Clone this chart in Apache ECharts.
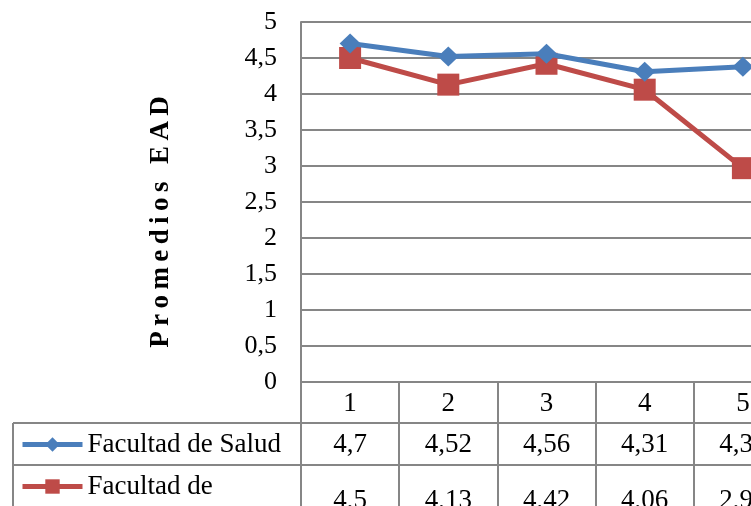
<!DOCTYPE html>
<html>
<head>
<meta charset="utf-8">
<script src="https://cdn.jsdelivr.net/npm/echarts@6/dist/echarts.min.js"></script>
<style>
  html, body { margin: 0; padding: 0; background: #fff; overflow: hidden; }
  #chart { width: 800px; height: 506px; }
</style>
</head>
<body>
<div id="chart"></div>
<script>
// Data
const categories = ['1', '2', '3', '4', '5'];
const saludName = 'Facultad de Salud';
const saludValues = [4.7, 4.52, 4.56, 4.31, 4.38];
const otraName = 'Facultad de';
const otraValues = [4.5, 4.13, 4.42, 4.06, 2.97];
const yMin = 0, yMax = 5, yStep = 0.5;
const yTitle = 'Promedios EAD';

const FONT = '"Liberation Serif", "Times New Roman", serif';
const GRID_GRAY = '#868686';
const BLUE = '#4A7EBB';
const RED = '#BE4B48';

const comma = v => String(v).replace('.', ',');
// spread the letters of the axis title with thin spaces
const spaced = s => s.split('').join('\u2009');

const chart = echarts.init(document.getElementById('chart'), null, { renderer: 'canvas' });

// one table row below the plot, drawn as an extra category axis
function tableRowAxis(labels, offset, margin, tickLen) {
  return {
    type: 'category',
    position: 'bottom',
    offset: offset,
    data: labels,
    boundaryGap: true,
    axisLine: { show: true, lineStyle: { color: GRID_GRAY, width: 2 } },
    axisTick: { show: true, alignWithLabel: false, interval: 0, length: tickLen,
                lineStyle: { color: GRID_GRAY, width: 2 } },
    axisLabel: { show: true, interval: 0, margin: margin, fontFamily: FONT,
                 fontSize: 27, color: '#000' },
    splitLine: { show: false }
  };
}

function legendRow(name, top) {
  return {
    orient: 'horizontal',
    left: 20,
    top: top,
    padding: 0,
    itemWidth: 60,
    itemHeight: 18,
    itemGap: 0,
    lineStyle: { width: 5 },
    textStyle: { fontFamily: FONT, fontSize: 27, color: '#000' },
    selectedMode: false,
    data: [name]
  };
}

const option = {
  backgroundColor: '#fff',
  animation: false,
  grid: { left: 301, top: 22, width: 491, height: 360, containLabel: false, outerBoundsMode: 'none' },
  legend: [legendRow(saludName, 431), legendRow(otraName, 473)],
  xAxis: [
    tableRowAxis(categories, 0, 8, 41),
    tableRowAxis(saludValues.map(comma), 41, 8, 42),
    tableRowAxis(otraValues.map(comma), 83, 22, 60)
  ],
  yAxis: {
    type: 'value',
    min: yMin,
    max: yMax,
    interval: yStep,
    axisLine: { show: true, lineStyle: { color: GRID_GRAY, width: 2 } },
    axisTick: { show: false },
    axisLabel: { margin: 24, fontFamily: FONT, fontSize: 26, color: '#000',
                 formatter: v => comma(v) },
    splitLine: { show: true, lineStyle: { color: GRID_GRAY, width: 2 } }
  },
  series: [
    {
      name: saludName,
      type: 'line',
      xAxisIndex: 0,
      data: saludValues,
      symbol: 'diamond',
      symbolSize: [21, 20],
      lineStyle: { color: BLUE, width: 5 },
      itemStyle: { color: BLUE },
      z: 3
    },
    {
      name: otraName,
      type: 'line',
      xAxisIndex: 0,
      data: otraValues,
      symbol: 'rect',
      symbolSize: 22,
      lineStyle: { color: RED, width: 5 },
      itemStyle: { color: RED },
      z: 2
    }
  ],
  graphic: [
    // vertical value-axis title
    { type: 'text', x: 161, y: 222, rotation: Math.PI / 2,
      style: { text: spaced(yTitle), fontFamily: FONT, fontSize: 27, fontWeight: 'bold',
               fill: '#000', align: 'center', verticalAlign: 'middle' } },
    // left column of the data table (legend cells)
    { type: 'line', shape: { x1: 13, y1: 423, x2: 301, y2: 423 }, style: { stroke: GRID_GRAY, lineWidth: 2 } },
    { type: 'line', shape: { x1: 13, y1: 465, x2: 301, y2: 465 }, style: { stroke: GRID_GRAY, lineWidth: 2 } },
    { type: 'line', shape: { x1: 13, y1: 423, x2: 13, y2: 506 }, style: { stroke: GRID_GRAY, lineWidth: 2 } }
  ]
};

chart.setOption(option);
</script>
</body>
</html>
